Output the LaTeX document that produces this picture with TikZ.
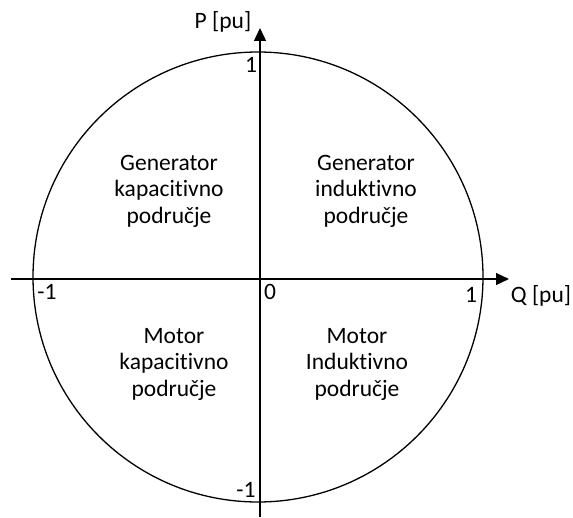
\documentclass[tikz,border=0pt]{standalone}
\usepackage{fontspec}
\setmainfont[Ligatures=NoCommon]{Carlito}
\usepackage{tikz}
\usetikzlibrary{arrows.meta, positioning, calc}
\usepackage{xcolor}
\tikzset{
  axis/.style   = {-{Triangle[length=13pt,width=12pt]}, line width=1.3pt, color=black},
  rim/.style    = {line width=1.3pt, color=black},
  region/.style = {align=center, font=\fontsize{23.5}{26.5}\selectfont, inner sep=0pt},
  tick/.style   = {anchor=base, font=\fontsize{23.5}{26}\selectfont, inner sep=0pt},
}

\begin{document}
\begin{tikzpicture}[x=1pt, y=-1pt]
  \useasboundingbox (0,0) rectangle (573,518);
  % axes and unit circle
  \coordinate (qstart) at (11,279);
  \coordinate (qend)   at (509,279);
  \coordinate (pstart) at (260,517);
  \coordinate (pend)   at (260,28);
  \coordinate (c0)     at (258,277);
  \draw[rim] (c0) circle[radius=225];
  \draw[axis] (qstart)--(qend);
  \draw[axis] (pstart)--(pend);
  % axis labels
  \node[tick] (plabel) at (223,29)  {P [pu]};
  \node[tick] (qlabel) at (541,303) {Q [pu]};
  \node[tick] (ptop)   at (251,73)  {1};
  \node[tick] (pbot)   at (246,497) {-1};
  \node[tick] (qleft)  at (47,300)  {-1};
  \node[tick] (qright) at (471,303) {1};
  \node[tick] (orig)   at (270,300) {0};
  % quadrants
  \node[region] (genkap) at (169,191) {Generator\\kapacitivno\\područje};
  \node[region] (genind) at (366,191) {Generator\\induktivno\\područje};
  \node[region] (motkap) at (174,364) {Motor\\kapacitivno\\područje};
  \node[region] (motind) at (357,364) {Motor\\Induktivno\\područje};
\end{tikzpicture}
\end{document}
